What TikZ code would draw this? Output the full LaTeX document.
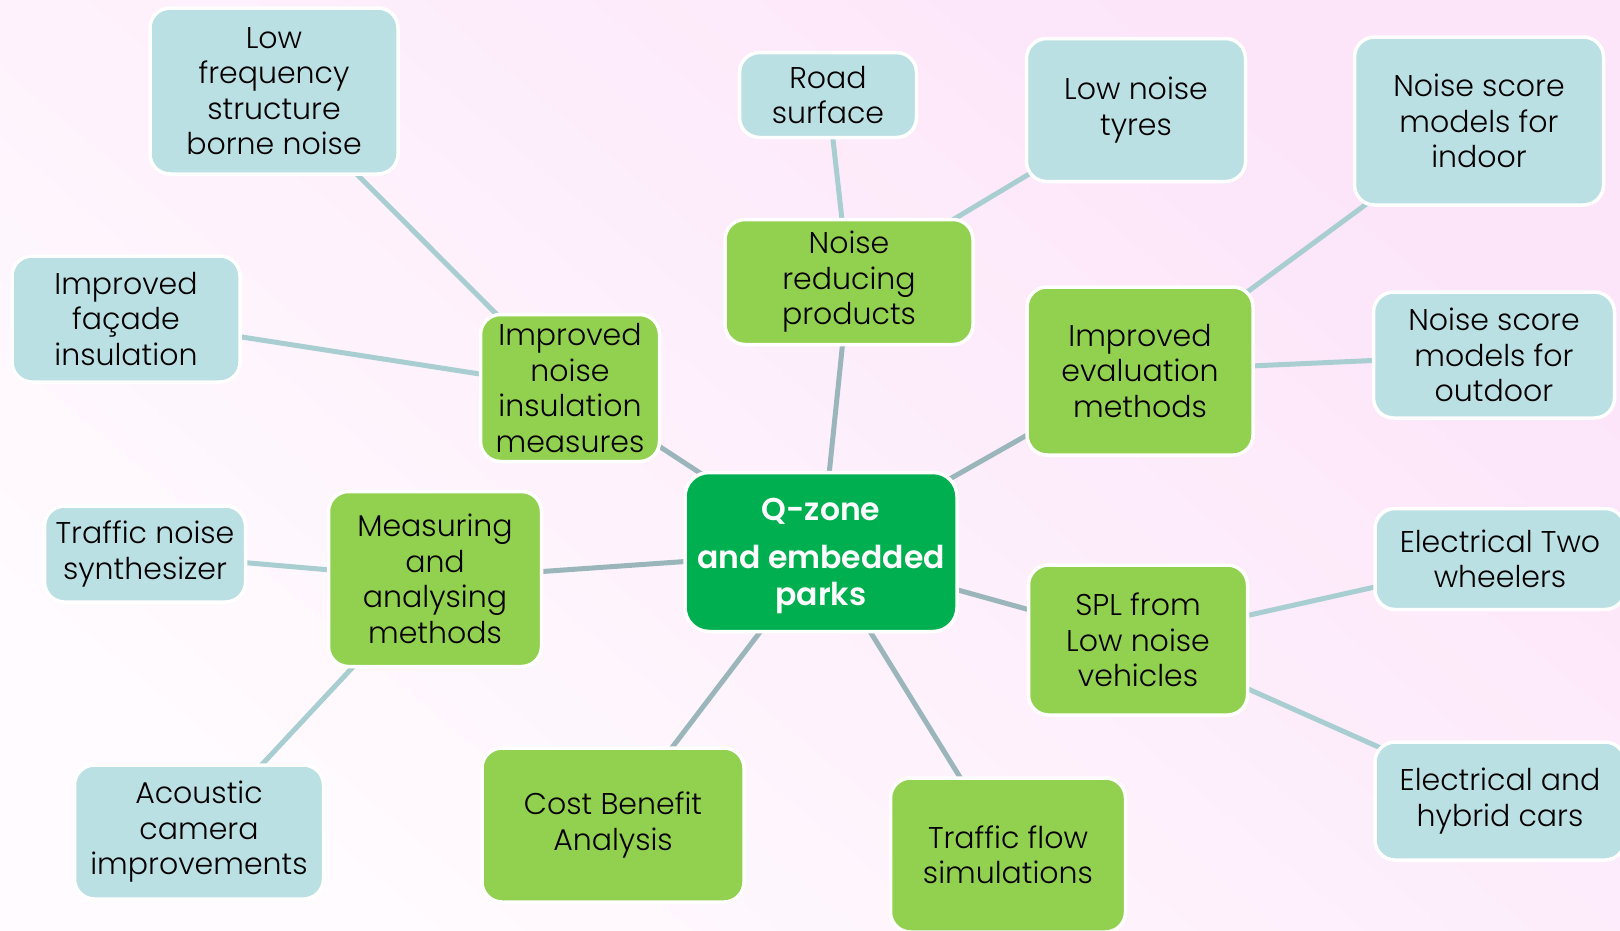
\documentclass[tikz,border=0pt]{standalone}
\usepackage{fontspec}
\setmainfont{Poppins}[UprightFont={* Light}, BoldFont={* SemiBold}]
\definecolor{leaf}{HTML}{BBE0E3}
\definecolor{mid}{HTML}{92D050}
\definecolor{core}{HTML}{00B050}
\definecolor{lnA}{HTML}{9AB6BA}
\definecolor{lnB}{HTML}{A9CED1}
\definecolor{bgA}{HTML}{FCE4F9}
\definecolor{bgB}{HTML}{FFFBFE}
\pgfdeclarelayer{bglayer}
\pgfdeclarelayer{linelayer}
\pgfsetlayers{bglayer,linelayer,main}
\tikzset{
 box/.style={draw=white, line width=3.5pt, rounded corners=20pt, align=center, inner sep=0pt,
   font=\fontsize{30}{35.5}\selectfont, text=black},
 leafbox/.style={box, fill=leaf},
 midbox/.style={box, fill=mid},
 corebox/.style={box, fill=core, text=white, font=\bfseries\fontsize{31.5}{37}\selectfont, rounded corners=24pt},
 sz/.style 2 args={minimum width=#1pt, minimum height=#2pt},
 link/.style={line width=5pt, draw=lnA},
 sublink/.style={line width=5pt, draw=lnB},
}
\begin{document}
\begin{tikzpicture}[x=1pt,y=-1pt]
\useasboundingbox (0,0) rectangle (1620,930);
\begin{pgfonlayer}{bglayer}
\shade[top color=bgA, bottom color=bgB, shading angle=-40] (0,0) rectangle (1620,930);
\end{pgfonlayer}
\clip (0,0) rectangle (1620,930);

% centre
\node[corebox, sz={272}{159}] (qzone) at (821,552) {};
\node[text=white, font=\bfseries\fontsize{31.5}{37}\selectfont, align=center, inner sep=0pt] (qtext) at (821,556) {Q-zone\\[11pt]and embedded\\parks};

% first level
\node[midbox, sz={179}{147}] (insul) at (570,388) {Improved\\noise\\insulation\\measures};
\node[midbox, sz={248}{125}] (noisered) at (849,282) {Noise\\reducing\\products};
\node[midbox, sz={226}{168}] (evalm) at (1140,371) {Improved\\evaluation\\methods};
\node[midbox, sz={213}{175}] (measure) at (435,579) {Measuring\\and\\analysing\\methods};
\node[midbox, sz={219}{150}] (spl) at (1138,640) {SPL from\\Low noise\\vehicles};
\node[midbox, sz={262}{154}] (cba) at (613,825) {Cost Benefit\\Analysis};
\node[midbox, sz={235}{154}] (tflow) at (1008,855) {Traffic flow\\simulations};

% leaves
\node[leafbox, sz={248}{166}] (lowfreq) at (274,91) {Low\\frequency\\structure\\borne noise};
\node[leafbox, sz={228}{126}] (facade) at (126,319) {Improved\\façade\\insulation};
\node[leafbox, sz={177}{85}] (road) at (828,95) {Road\\surface};
\node[leafbox, sz={219}{143}] (tyres) at (1136,110) {Low noise\\tyres};
\node[leafbox, sz={249}{168}] (indoor) at (1479,121) {Noise score\\models for\\indoor};
\node[leafbox, sz={241}{126}] (outdoor) at (1494,355) {Noise score\\models for\\outdoor};
\node[leafbox, sz={201}{96}] (synth) at (145,554) {Traffic noise\\synthesizer};
\node[leafbox, sz={249}{134}] (camera) at (199,832) {Acoustic\\camera\\improvements};
\node[leafbox, sz={250}{101}] (twowh) at (1500,559) {Electrical Two\\wheelers};
\node[leafbox, sz={250}{118}] (hybrid) at (1500,801) {Electrical and\\hybrid cars};

\begin{pgfonlayer}{linelayer}
\draw[link] (qzone.center) -- (insul.center);
\draw[link] (qzone.center) -- (noisered.center);
\draw[link] (qzone.center) -- (evalm.center);
\draw[link] (qzone.center) -- (measure.center);
\draw[link] (qzone.center) -- (spl.center);
\draw[link] (qzone.center) -- (cba.center);
\draw[link] (qzone.center) -- (tflow.center);
\draw[sublink] (insul.center) -- (lowfreq.center);
\draw[sublink] (insul.center) -- (facade.center);
\draw[sublink] (noisered.center) -- (road.center);
\draw[sublink] (noisered.center) -- (tyres.center);
\draw[sublink] (evalm.center) -- (indoor.center);
\draw[sublink] (evalm.center) -- (outdoor.center);
\draw[sublink] (measure.center) -- (synth.center);
\draw[sublink] (measure.center) -- (camera.center);
\draw[sublink] (spl.center) -- (twowh.center);
\draw[sublink] (spl.center) -- (hybrid.center);
\end{pgfonlayer}
\end{tikzpicture}
\end{document}
